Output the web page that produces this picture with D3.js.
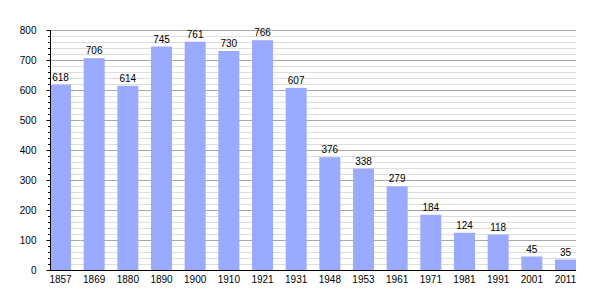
<!DOCTYPE html>
<html>
<head>
<meta charset="utf-8">
<script src="https://cdn.jsdelivr.net/npm/d3@7"></script>
<style>
  body { margin: 0; background: #fff; }
  text { font-family: "Liberation Sans", Arial, sans-serif; }
</style>
</head>
<body>
<svg width="605" height="300"></svg>
<script>
// population by census year
const years = ["1857", "1869", "1880", "1890", "1900", "1910", "1921", "1931",
               "1948", "1953", "1961", "1971", "1981", "1991", "2001", "2011"];
const population = [618, 706, 614, 745, 761, 730, 766, 607,
                    376, 338, 279, 184, 124, 118, 45, 35];
const yTicks = [0, 100, 200, 300, 400, 500, 600, 700, 800];

const svg = d3.select("svg");
const plotLeft = 50, plotRight = 576, plotTop = 30, plotBottom = 270;

const x = d3.scaleBand()
    .domain(years)
    .range([plotLeft, plotRight])
    .paddingInner(0.376)
    .paddingOuter(0);

const y = d3.scaleLinear()
    .domain([0, 800])
    .range([plotBottom, plotTop]);

// minor grid every 20
const minor = d3.range(0, 801, 20).filter(v => v % 100 !== 0);
svg.append("g").selectAll("line")
    .data(minor)
    .join("line")
    .attr("x1", plotLeft).attr("x2", plotRight)
    .attr("y1", d => Math.round(y(d)) + 0.5)
    .attr("y2", d => Math.round(y(d)) + 0.5)
    .attr("stroke", "#dedede");

// major grid every 100
svg.append("g").selectAll("line")
    .data(yTicks.slice(1))
    .join("line")
    .attr("x1", plotLeft).attr("x2", plotRight)
    .attr("y1", d => Math.round(y(d)) + 0.5)
    .attr("y2", d => Math.round(y(d)) + 0.5)
    .attr("stroke", "#a8a8a8");

// bars
svg.append("g").selectAll("rect")
    .data(population)
    .join("rect")
    .attr("x", (d, i) => x(years[i]))
    .attr("y", d => y(d))
    .attr("width", x.bandwidth())
    .attr("height", d => plotBottom - y(d))
    .attr("fill", "#99aaff");

// value labels
svg.append("g").selectAll("text")
    .data(population)
    .join("text")
    .attr("x", (d, i) => x(years[i]) + x.bandwidth() / 2)
    .attr("y", d => y(d) - 4)
    .attr("text-anchor", "middle")
    .attr("font-size", "10px")
    .attr("fill", "#000")
    .text(d => d);

// y axis
const yAxis = d3.axisLeft(y)
    .tickValues(yTicks)
    .tickSize(4)
    .tickPadding(10);
const ya = svg.append("g")
    .attr("transform", `translate(${plotLeft + 0.5},0)`)
    .call(yAxis);
ya.select(".domain").remove();
ya.selectAll("text").attr("font-size", "10px").attr("font-family", null).attr("fill", "#000");
ya.selectAll("line").attr("stroke", "#000");

// minor y ticks
svg.append("g").selectAll("line")
    .data(minor)
    .join("line")
    .attr("x1", plotLeft - 2).attr("x2", plotLeft)
    .attr("y1", d => Math.round(y(d)) + 0.5)
    .attr("y2", d => Math.round(y(d)) + 0.5)
    .attr("stroke", "#000");

svg.append("line")
    .attr("x1", plotLeft + 0.5).attr("x2", plotLeft + 0.5)
    .attr("y1", plotTop).attr("y2", plotBottom)
    .attr("stroke", "#000");

// x axis
const xa = svg.append("g")
    .attr("transform", `translate(0,${plotBottom + 0.5})`)
    .call(d3.axisBottom(x).tickSize(0).tickPadding(5));
xa.select(".domain").attr("d", `M${plotLeft},0H${plotRight}`).attr("stroke", "#000");
xa.selectAll("text").attr("font-size", "10px").attr("font-family", null).attr("fill", "#000");
</script>
</body>
</html>
